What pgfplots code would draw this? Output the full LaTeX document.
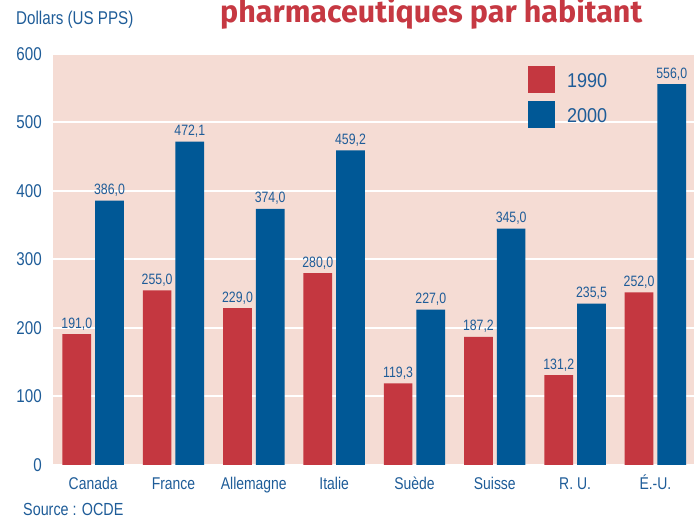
\documentclass[border=0pt]{standalone}
\usepackage{fontspec}
\setmainfont[FakeStretch=0.82]{Liberation Sans}
\newfontfamily\legfont[FakeStretch=0.9]{Liberation Sans}
\newfontfamily\titlefont{Fira Sans}
\usepackage{pgfplots}
\pgfplotsset{compat=1.18}
\definecolor{barred}{RGB}{196,55,64}
\definecolor{barblue}{RGB}{0,88,150}
\definecolor{bgpink}{RGB}{245,220,212}
\definecolor{txtblue}{RGB}{30,92,152}
\definecolor{titlered}{RGB}{198,56,66}

\begin{document}
\begin{tikzpicture}[x=1pt,y=1pt]
\path[use as bounding box] (0,0) rectangle (694,525);

% titre (coupe en haut, comme l'original)
\node[anchor=base west, inner sep=0pt, text=titlered] at (220,502.3)
  {\resizebox{422pt}{25pt}{\titlefont\bfseries pharmaceutiques par habitant}};
\node[anchor=base west, inner sep=0pt, text=txtblue] at (16,500)
  {\fontsize{18.5}{22}\selectfont Dollars (US PPS)};
\node[anchor=base west, inner sep=0pt, text=txtblue] at (23,9)
  {\fontsize{17.5}{21}\selectfont Source : OCDE};

\begin{axis}[at={(53pt,60pt)}, anchor=south west,
  scale only axis, width=641pt, height=411pt,
  ybar, bar width=28.7pt,
  xmin=-0.5, xmax=7.48, ymin=0, ymax=600,
  axis background/.style={fill=bgpink},
  axis line style={draw=none},
  major tick length=0pt,
  ytick={0,100,...,600},
  ymajorgrids, grid style={white, line width=2pt},
  xtick=data,
  xticklabels={Canada, France, Allemagne, Italie, Suède, Suisse, R. U., É.-U.},
  /pgf/number format/assume math mode=true,
  yticklabel style={anchor=east, inner sep=0pt, xshift=-11pt,
    text=txtblue, font=\fontsize{18.5}{22}\selectfont},
  xticklabel style={anchor=base, inner sep=0pt, yshift=-25pt,
    text=txtblue, font=\fontsize{17}{20}\selectfont},
  nodes near coords,
  nodes near coords style={/pgf/number format/fixed,
    /pgf/number format/fixed zerofill, /pgf/number format/precision=1,
    /pgf/number format/use comma, /pgf/number format/assume math mode=true},
  every node near coord/.append style={anchor=base, inner sep=0pt, yshift=6pt,
    text=txtblue, font=\fontsize{15}{18}\selectfont},
  legend style={at={(0.741,0.971)}, anchor=north west, draw=none, fill=none,
    inner sep=0pt, row sep=8pt, column sep=10pt,
    font=\legfont\fontsize{20}{24}\selectfont, text=txtblue},
  legend cell align=left,
  legend image code/.code={\fill[#1, draw=none] (0pt,-11.5pt) rectangle (27pt,15.5pt);},
]
\addplot[fill=barred, draw=none, bar shift=-16.35pt]
  coordinates {(0,191.0)(1,255.0)(2,229.0)(3,280.0)(4,119.3)(5,187.2)(6,131.2)(7,252.0)};
\addplot[fill=barblue, draw=none, bar shift=16.35pt]
  coordinates {(0,386.0)(1,472.1)(2,374.0)(3,459.2)(4,227.0)(5,345.0)(6,235.5)(7,556.0)};
\legend{1990, 2000}
\end{axis}
\end{tikzpicture}
\end{document}
